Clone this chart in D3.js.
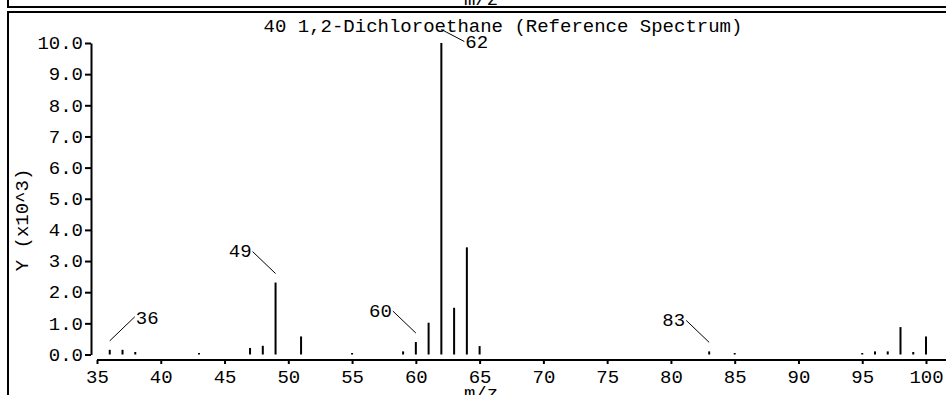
<!DOCTYPE html>
<html>
<head>
<meta charset="utf-8">
<script src="https://cdn.jsdelivr.net/npm/d3@7"></script>
<style>
  html, body { margin: 0; padding: 0; background: #fff; }
  svg { display: block; }
  text { font-family: "Liberation Mono", "DejaVu Sans Mono", monospace; font-size: 19px; fill: #000; }
</style>
</head>
<body>
<script>
// ---- data ----
const title = "40 1,2-Dichloroethane (Reference Spectrum)";
const xLabel = "m/z";
const yLabel = "Y (x10^3)";
const mz = [36, 37, 38, 43, 47, 48, 49, 51, 55, 59, 60, 61, 62, 63, 64, 65, 83, 85, 95, 96, 97, 98, 99, 100];
const intensity = [0.15, 0.15, 0.08, 0.03, 0.21, 0.28, 2.31, 0.58, 0.03, 0.10, 0.40, 1.02, 10.0, 1.50, 3.44, 0.27, 0.10, 0.03, 0.03, 0.10, 0.10, 0.88, 0.08, 0.58];
const labeledPeaks = [36, 49, 60, 62, 83];
const xTicks = [35, 40, 45, 50, 55, 60, 65, 70, 75, 80, 85, 90, 95, 100];
const yTicks = [0, 1, 2, 3, 4, 5, 6, 7, 8, 9, 10];

// ---- layout ----
const W = 946, H = 395;
const svg = d3.select("body").append("svg").attr("width", W).attr("height", H);

const x = d3.scaleLinear().domain([35, 100]).range([97, 926]);
const y = d3.scaleLinear().domain([0, 10]).range([354.5, 43]);

// frames (upper panel bottom edge, lower panel top edge)
const frame = svg.append("g").attr("stroke", "#000").attr("stroke-width", 2).attr("fill", "none");
frame.append("path").attr("d", `M8,-5 L8,7 L${W + 5},7`);
frame.append("path").attr("d", `M${W + 5},12 L8,12 L8,${H + 5}`);

// upper panel's cut-off x-label
svg.append("text").attr("x", 481).attr("y", 4.5).attr("text-anchor", "middle").text(xLabel);

// title
svg.append("text").attr("x", 503).attr("y", 31.5).attr("text-anchor", "middle").text(title);

// y axis
const yAxisG = svg.append("g").attr("transform", "translate(91,0)")
  .call(d3.axisLeft(y).tickValues(yTicks).tickFormat(d3.format(".1f")).tickSize(6).tickSizeOuter(0));
yAxisG.select(".domain").attr("stroke-width", 2);
yAxisG.selectAll(".tick line").attr("stroke-width", 2);
yAxisG.selectAll(".tick text").attr("font-family", null).attr("font-size", null)
  .attr("x", -8).attr("dy", "0.3em");

// x axis (extends to right edge)
const xAxisG = svg.append("g").attr("transform", "translate(0,360)")
  .call(d3.axisBottom(x).tickValues(xTicks).tickFormat(d3.format("d")).tickSize(4).tickSizeOuter(0));
xAxisG.select(".domain").attr("d", `M${x(35)},0H${W + 5}`).attr("stroke-width", 2);
xAxisG.selectAll(".tick line").attr("stroke-width", 2);
xAxisG.selectAll(".tick text").attr("font-family", null).attr("font-size", null)
  .attr("y", 10).attr("dy", "0.71em");

// axis labels
svg.append("text").attr("transform", "translate(28,220) rotate(-90)")
  .attr("text-anchor", "middle").text(yLabel);
svg.append("text").attr("x", 481).attr("y", 399).attr("text-anchor", "middle").text(xLabel);

// bars
const peaks = mz.map((m, i) => ({ m, v: intensity[i] }));
svg.append("g").selectAll("line").data(peaks).join("line")
  .attr("x1", d => x(d.m)).attr("x2", d => x(d.m))
  .attr("y1", y(0)).attr("y2", d => Math.min(y(d.v), y(0) - 1.5))
  .attr("stroke", "#000").attr("stroke-width", 2);

// peak annotations
const placement = { 36: "upRight", 62: "downRight" };
const ann = svg.append("g");
peaks.filter(d => labeledPeaks.includes(d.m)).forEach(d => {
  const bx = x(d.m), top = y(d.v);
  const kind = placement[d.m] || "upLeft";
  let x1, y1, x2, y2, tx, ty, anchor;
  if (kind === "upLeft") {
    x1 = bx; y1 = top - 9; x2 = bx - 23; y2 = top - 31;
    tx = x2 - 1; ty = y2 + 5.5; anchor = "end";
  } else if (kind === "upRight") {
    x1 = bx; y1 = top - 9; x2 = bx + 25; y2 = top - 33;
    tx = x2 + 1; ty = y2 + 7.5; anchor = "start";
  } else {
    x1 = bx; y1 = top - 13.5; x2 = bx + 23; y2 = top - 1.5;
    tx = x2 + 1; ty = y2 + 6.5; anchor = "start";
  }
  ann.append("line").attr("x1", x1).attr("y1", y1).attr("x2", x2).attr("y2", y2)
    .attr("stroke", "#000").attr("stroke-width", 1);
  ann.append("text").attr("x", tx).attr("y", ty).attr("text-anchor", anchor).text(d.m);
});
</script>
</body>
</html>
